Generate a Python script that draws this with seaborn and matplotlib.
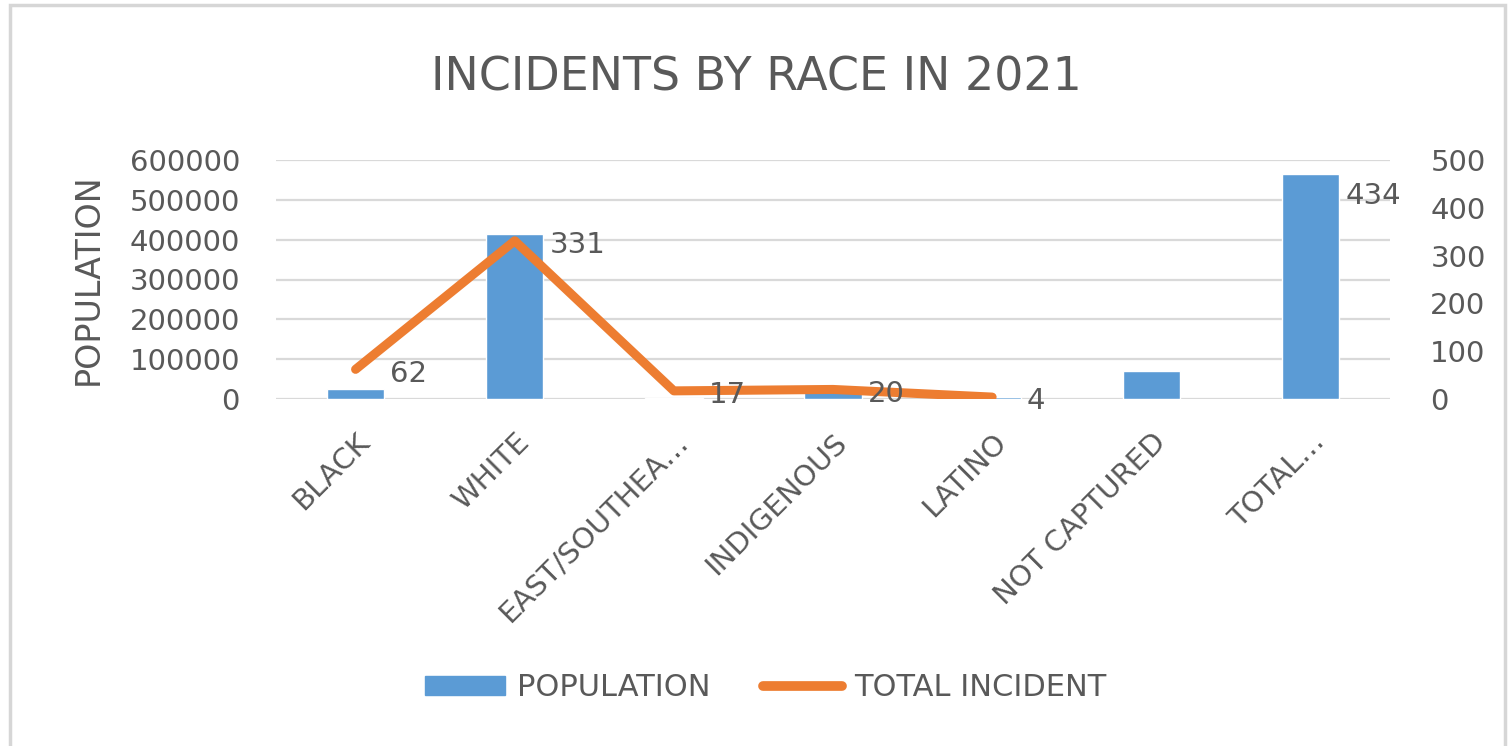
import matplotlib
matplotlib.use("Agg")
import matplotlib.pyplot as plt
import matplotlib.patches as mpatches
import matplotlib.lines as mlines
import matplotlib.transforms as mtransforms
import numpy as np
import pandas as pd
import seaborn as sns

categories = ["BLACK", "WHITE", "EAST/SOUTHEA…", "INDIGENOUS", "LATINO", "NOT CAPTURED", "TOTAL…"]
population = [25000, 415000, 3000, 33000, 4000, 70000, 566000]
total_incident = [62, 331, 17, 20, 4, np.nan, 434]
left_ticks = [0, 100000, 200000, 300000, 400000, 500000, 600000]
right_ticks = [0, 100, 200, 300, 400, 500]

BLUE = "#5B9BD5"
ORANGE = "#ED7D31"
TXT = "#595959"
GRID = "#D9D9D9"

sns.set_theme(style="white")
plt.rcParams["font.family"] = ["DejaVu Sans"]

fig = plt.figure(figsize=(15.12, 7.46), dpi=100)
W, H = 1512, 746

def px(x0, y0, x1, y1):
    return [x0 / W, 1 - y1 / H, (x1 - x0) / W, (y1 - y0) / H]

ax = fig.add_axes(px(276, 160, 1390, 399))

df = pd.DataFrame({"cat": categories, "pop": population, "inc": total_incident})
df["pos"] = np.arange(len(df))
sns.barplot(data=df, x="cat", y="pop", color=BLUE, saturation=1, width=0.36, ax=ax, zorder=2)

ax.set_ylim(0, 600000)
ax.set_yticks(left_ticks)
ax.set_yticklabels([str(v) for v in left_ticks])
ax.yaxis.grid(True, color=GRID, linewidth=1.6, zorder=0)
ax.set_axisbelow(True)
for s in ax.spines.values():
    s.set_visible(False)
ax.tick_params(axis="y", length=0, pad=26, labelsize=21, labelcolor=TXT)
ax.tick_params(axis="x", length=0, pad=28, labelsize=21, labelcolor=TXT)
shift = mtransforms.ScaledTranslation(10 / 100, 0, fig.dpi_scale_trans)
for lab in ax.get_xticklabels():
    lab.set_rotation(45)
    lab.set_ha("right")
    lab.set_va("center")
    lab.set_rotation_mode("anchor")
    lab.set_transform(lab.get_transform() + shift)
ax.set_xlabel("")
ax.set_ylabel("POPULATION", fontsize=24, color=TXT, labelpad=18)
ax.set_xlim(-0.5, len(categories) - 0.5)

ax2 = ax.twinx()
df["seg"] = df["inc"].isna().cumsum()
line_df = df.dropna(subset=["inc"])
sns.lineplot(data=line_df, x="pos", y="inc", units="seg", estimator=None,
             color=ORANGE, linewidth=6.5, ax=ax2, legend=False, solid_capstyle="round")
ax2.set_ylim(0, 500)
ax2.set_yticks(right_ticks)
ax2.set_yticklabels([str(v) for v in right_ticks])
ax2.tick_params(axis="y", length=0, pad=29, labelsize=21, labelcolor=TXT)
ax2.set_ylabel("")
ax2.grid(False)
for s in ax2.spines.values():
    s.set_visible(False)
ax2.set_xlim(-0.5, len(categories) - 0.5)

for i, v in enumerate(total_incident):
    if np.isnan(v):
        continue
    ax2.annotate(str(int(v)), (i, v), xytext=(25, -3), textcoords="offset points",
                 ha="left", va="center", fontsize=21, color=TXT)

fig.text(0.5, 1 - 78 / H, "INCIDENTS BY RACE IN 2021", ha="center", va="center",
         fontsize=33, color=TXT)

handles = [mpatches.Patch(color=BLUE, label="POPULATION"),
           mlines.Line2D([], [], color=ORANGE, linewidth=7, solid_capstyle="round", label="TOTAL INCIDENT")]
leg = fig.legend(handles=handles, loc="center", bbox_to_anchor=(766 / W, 1 - 688 / H), ncol=2,
                 frameon=False, fontsize=22, handlelength=2.6, handleheight=0.55,
                 handletextpad=0.4, columnspacing=1.7)
for t in leg.get_texts():
    t.set_color(TXT)

border = mpatches.Rectangle((10 / W, -0.05), (1505 - 10) / W, 1 - 5 / H + 0.05,
                            transform=fig.transFigure, fill=False, edgecolor="#D6D6D6",
                            linewidth=2.5, clip_on=False)
fig.patches.append(border)

fig.savefig("out.png", dpi=100)
